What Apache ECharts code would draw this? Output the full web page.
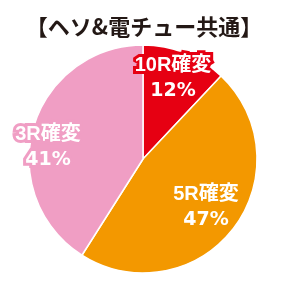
<!DOCTYPE html>
<html>
<head>
<meta charset="utf-8">
<script src="https://cdn.jsdelivr.net/npm/echarts@6/dist/echarts.min.js"></script>
<style>
  html, body { margin: 0; padding: 0; background: #fff; }
  #chart { width: 288px; height: 288px; }
</style>
</head>
<body>
<div id="chart"></div>
<script>
const categories = ['10R確変', '5R確変', '3R確変']
const percents = [12, 47, 41]
const colors = ['#e60012', '#f39800', '#f09ec4']

// where each label sits (pixels)
const labelPos = [[173, 78], [206, 207], [48, 147]]

const chart = echarts.init(document.getElementById('chart'))

chart.setOption({
  animation: false,
  title: {
    text: '【ヘソ&電チュー共通】',
    left: 'center',
    top: 11,
    textStyle: {
      fontFamily: 'Noto Sans CJK JP',
      fontSize: 22,
      fontWeight: 'bold',
      color: '#231815'
    }
  },
  series: [
    {
      type: 'pie',
      center: [143, 159],
      radius: 114,
      startAngle: 90,
      clockwise: true,
      itemStyle: {
        borderColor: '#fff',
        borderWidth: 1.5
      },
      label: {
        show: true,
        position: 'inside',
        formatter: p => '{n|' + p.name + '}\n{p|' + p.value + '%}',
        color: '#fff',
        textBorderWidth: 6,
        align: 'center',
        verticalAlign: 'middle',
        rich: {
          n: {
            fontFamily: '"Liberation Sans", "Noto Sans CJK JP"',
            fontSize: 20,
            fontWeight: 'bold',
            lineHeight: 26,
            color: '#fff'
          },
          p: {
            fontFamily: '"DejaVu Sans"',
            fontSize: 19,
            fontWeight: 'bold',
            lineHeight: 26,
            color: '#fff'
          }
        }
      },
      labelLine: { show: false },
      labelLayout: params => ({
        x: labelPos[params.dataIndex][0],
        y: labelPos[params.dataIndex][1],
        align: 'center',
        verticalAlign: 'middle'
      }),
      data: categories.map((name, i) => ({
        name: name,
        value: percents[i],
        itemStyle: { color: colors[i] },
        label: { textBorderColor: colors[i] }
      }))
    }
  ]
})
</script>
</body>
</html>
